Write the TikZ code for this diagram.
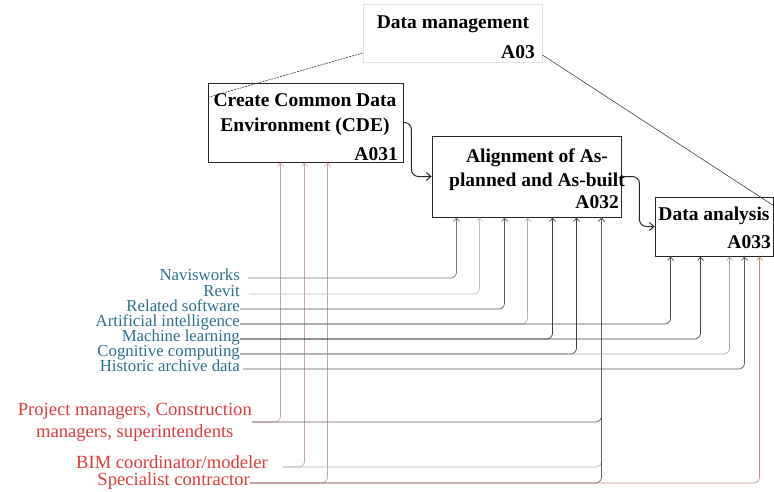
\documentclass[tikz,border=0pt]{standalone}
\usepackage{fontspec}
\setmainfont{Liberation Serif}
\usetikzlibrary{arrows.meta}
\definecolor{labblue}{HTML}{2A6F8F}
\definecolor{labred}{HTML}{E03C3C}
\definecolor{pinkline}{HTML}{C9A3AB}
\definecolor{maroonline}{HTML}{6B5560}
\definecolor{rustline}{HTML}{C0907F}
\newcommand\dgTitle{\fontsize{19.5}{25}\selectfont\bfseries}
\newcommand\dgSoft{\fontsize{16.8}{15}\selectfont}
\newcommand\dgRole{\fontsize{18.6}{22}\selectfont}
\tikzset{
  box/.style={draw=black!85, line width=0.9pt, rectangle, inner sep=0pt, fill=white},
  ttl/.style={inner sep=0pt, align=center, font=\dgTitle},
  idl/.style={inner sep=0pt, font=\dgTitle},
  soft/.style={inner sep=0pt, text=labblue, font=\dgSoft},
  role/.style={inner sep=0pt, text=labred, font=\dgRole, align=center},
  conn/.style={line width=0.7pt, rounded corners=6pt, -{Straight Barb[length=3.5pt,width=6pt]}},
  flow/.style={line width=1pt, black!85, rounded corners=7pt, -{Straight Barb[length=4.5pt,width=8pt]}},
}
\begin{document}
\begin{tikzpicture}[x=1pt,y=-1pt]
\useasboundingbox (0,0) rectangle (774,491);

% boxes
\node[box, draw=black!12, minimum width=179, minimum height=58] (a03) at (452.5,33) {};
\node[box, minimum width=195, minimum height=79] (a031) at (305.5,122.5) {};
\node[box, minimum width=189, minimum height=81] (a032) at (526.5,176.5) {};
\node[box, minimum width=118, minimum height=59] (a033) at (714,226.5) {};

% box texts
\node[ttl, anchor=base] (t03) at (453,28) {Data management};
\node[idl, anchor=base east] (id03) at (535,58) {A03};
\node[ttl, anchor=north] (t031) at (305,93) {Create Common Data\\Environment (CDE)};
\node[idl, anchor=base east] (id031) at (398,160) {A031};
\node[ttl, anchor=north, font=\fontsize{19.5}{23.5}\selectfont\bfseries] (t032) at (537,149) {Alignment of As-\\planned and As-built};
\node[idl, anchor=base east] (id032) at (619,208) {A032};
\node[idl, anchor=base] (t033) at (714,220) {Data analysis};
\node[idl, anchor=base east] (id033) at (771,248) {A033};

% decomposition lines
\draw[black!80, line width=0.6pt, dashed, dash pattern=on 2pt off 1pt] ([yshift=-20pt]a03.west) -- ([yshift=25pt]a031.west);
\draw[black!75, line width=0.6pt] ([yshift=-22pt]a03.east) -- ([yshift=-9pt]a033.north east);

% flow arrows
\draw[flow] (a031.east) -- ++(8,0) |- (a032.west);
\draw[flow] (a032.east) -- ++(18,0) |- (a033.west);

% input points
\coordinate (i31a) at ([xshift=73pt]a031.south west);
\coordinate (i31b) at ([xshift=97pt]a031.south west);
\coordinate (i31c) at ([xshift=120pt]a031.south west);
\coordinate (i32a) at ([xshift=25pt]a032.south west);
\coordinate (i32b) at ([xshift=48pt]a032.south west);
\coordinate (i32c) at ([xshift=73pt]a032.south west);
\coordinate (i32d) at ([xshift=96pt]a032.south west);
\coordinate (i32e) at ([xshift=121pt]a032.south west);
\coordinate (i32f) at ([xshift=145pt]a032.south west);
\coordinate (i32g) at ([xshift=170pt]a032.south west);
\coordinate (i33a) at ([xshift=16pt]a033.south west);
\coordinate (i33b) at ([xshift=46pt]a033.south west);
\coordinate (i33c) at ([xshift=75pt]a033.south west);
\coordinate (i33d) at ([xshift=90pt]a033.south west);
\coordinate (i33e) at ([xshift=105pt]a033.south west);

% software labels
\node[soft, anchor=mid east] (nav) at (240,278) {Navisworks};
\node[soft, anchor=mid east] (rev) at (240,294) {Revit};
\node[soft, anchor=mid east] (rel) at (240,309) {Related software};
\node[soft, anchor=mid east] (ai) at (240,324) {Artificial intelligence};
\node[soft, anchor=mid east] (ml) at (240,339) {Machine learning};
\node[soft, anchor=mid east] (cog) at (240,354) {Cognitive computing};
\node[soft, anchor=mid east] (hist) at (240,369) {Historic archive data};

% role labels
\node[role, anchor=east] (pm) at (252,422) {Project managers, Construction\\managers, superintendents};
\node[role, anchor=base east] (bim) at (268,468) {BIM coordinator/modeler};
\node[role, anchor=mid east] (spec) at (250,483) {Specialist contractor};

% role connectors
\draw[conn, pinkline] (pm.east) -| (i31a);
\draw[conn, pinkline, shorten <=15pt] ([yshift=1pt]bim.base east) -| (i31b);
\draw[conn, pinkline] (spec.mid east) -| (i31c);
\draw[conn, maroonline] (pm.east) -| (i32g);
\draw[conn, black!30, shorten <=15pt] ([yshift=1pt]bim.base east) -| (i32g);
\draw[conn, maroonline] (spec.mid east) -| (i32g);
\draw[conn, rustline] (spec.mid east) -| (i33e);

% software connectors
\draw[conn, black!55, shorten <=8pt] (nav.mid east) -| (i32a);
\draw[conn, black!25, shorten <=9pt] (rev.mid east) -| (i32b);
\draw[conn, black!65] (rel.mid east) -| (i32c);
\draw[conn, black!30] (ai.mid east) -| (i32d);
\draw[conn, black!70] (ai.mid east) -| (i33a);
\draw[conn, black!75] (ml.mid east) -| (i32e);
\draw[conn, black!75] (ml.mid east) -| (i33b);
\draw[conn, black!75] (cog.mid east) -| (i32f);
\draw[conn, black!35] (cog.mid east) -| (i33c);
\draw[conn, black!65, shorten <=3pt] (hist.mid east) -| (i33d);
\end{tikzpicture}
\end{document}
